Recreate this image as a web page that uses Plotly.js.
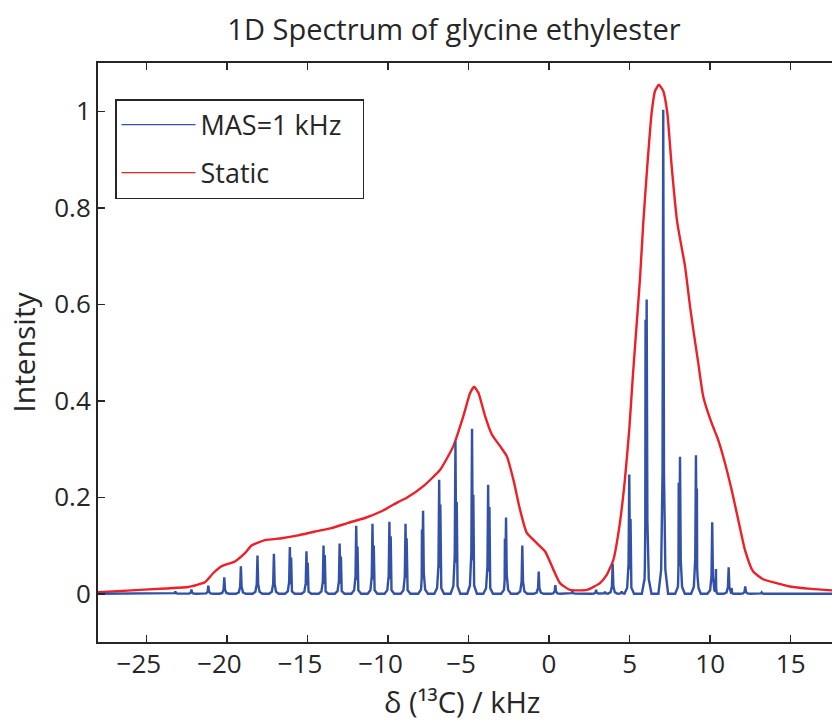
<!DOCTYPE html>
<html>
<head>
<meta charset="utf-8">
<script src="https://cdn.plot.ly/plotly-3.0.1.min.js"></script>
<style>
html,body{margin:0;padding:0;background:#fff;overflow:hidden;}
#chart{width:845px;height:720px;}
</style>
</head>
<body>
<div id="chart"></div>
<script>
// ---- data ----
// MAS = 1 kHz spectrum: sideband positions (kHz), heights, and the small
// neighbouring line each sideband carries (offset in kHz, height).
var mas_x   = [-23.2, -22.2, -21.15, -20.16, -19.13, -18.1, -17.08, -16.09, -15.06, -14.0, -13.0, -11.97, -10.96, -9.91, -8.91, -7.82, -6.82, -5.81, -4.78, -3.78, -2.67, -1.66, -0.64, 0.39, 1.45, 2.92, 3.47, 3.95, 4.51, 4.98, 6.06, 7.09, 8.13, 9.12, 10.13, 11.15, 12.18, 13.2];
var mas_h   = [0.005, 0.009, 0.017, 0.034, 0.057, 0.079, 0.083, 0.097, 0.088, 0.100, 0.104, 0.141, 0.145, 0.149, 0.145, 0.172, 0.236, 0.316, 0.342, 0.226, 0.158, 0.100, 0.046, 0.018, 0.005, 0.008, 0.004, 0.062, 0.005, 0.247, 0.610, 1.003, 0.284, 0.287, 0.148, 0.055, 0.015, 0.003];
var mas_sdx = [0, 0, 0, 0, 0, 0, 0, 0.08, 0.08, 0.08, 0.08, 0.08, 0.08, 0.08, 0.07, -0.07, 0.07, 0.08, 0.08, 0.08, -0.07, 0, 0, 0, 0, 0, 0, 0, 0, 0.08, -0.07, 0, -0.08, 0.06, 0.23, 0.18, 0, 0];
var mas_sh  = [0, 0, 0, 0, 0, 0, 0, 0.075, 0.064, 0.080, 0.077, 0.098, 0.100, 0.119, 0.115, 0.133, 0.185, 0.190, 0.205, 0.180, 0.114, 0, 0, 0, 0, 0, 0, 0, 0, 0.155, 0.568, 0, 0.230, 0.218, 0.051, 0.012, 0, 0];

// Static spectrum
var static_x = [-28, -25.9, -23.8, -22.4, -21.8, -21.36, -20.84, -20.33, -19.5, -18.88, -18.47, -17.64, -16.6, -15.57, -14.53, -13.5, -12.47, -11.43, -10.4, -9.37, -8.83, -7.8, -6.76, -5.94, -5.32, -4.9, -4.65, -4.38, -3.97, -3.55, -3.04, -2.62, -2.21, -1.8, -1.38, -0.76, -0.25, 0.27, 0.68, 1.3, 2.34, 3.16, 3.58, 3.99, 4.4, 4.71, 4.98, 5.2, 5.42, 5.65, 5.85, 6.1, 6.37, 6.58, 6.82, 7.09, 7.34, 7.61, 7.96, 8.44, 8.75, 9.0, 9.26, 9.57, 10.09, 10.5, 10.92, 11.33, 11.74, 12.16, 12.67, 13.29, 14.12, 14.95, 16.3, 18];
var static_y = [0.003, 0.007, 0.011, 0.014, 0.019, 0.024, 0.043, 0.057, 0.067, 0.084, 0.100, 0.111, 0.115, 0.121, 0.129, 0.136, 0.147, 0.157, 0.171, 0.190, 0.199, 0.223, 0.257, 0.306, 0.368, 0.416, 0.429, 0.416, 0.368, 0.330, 0.306, 0.285, 0.236, 0.174, 0.126, 0.105, 0.088, 0.050, 0.022, 0.008, 0.008, 0.022, 0.039, 0.070, 0.147, 0.237, 0.340, 0.450, 0.550, 0.655, 0.769, 0.887, 0.997, 1.042, 1.055, 1.042, 0.997, 0.887, 0.769, 0.679, 0.596, 0.537, 0.479, 0.409, 0.354, 0.319, 0.271, 0.216, 0.154, 0.091, 0.046, 0.030, 0.022, 0.015, 0.010, 0.006];

var x_tickvals = [-25, -20, -15, -10, -5, 0, 5, 10, 15];
var x_ticktext = ['\u221225\u2007', '\u221220\u2007', '\u221215\u2007', '\u221210\u2007', '\u22125\u2007', '0', '5', '10', '15'];
var y_tickvals = [0, 0.2, 0.4, 0.6, 0.8, 1];
var y_ticktext = ['0', '0.2', '0.4', '0.6', '0.8', '1'];

var series_names = ['MAS=1 kHz', 'Static'];
var title_text = '1D Spectrum of glycine ethylester';
var x_title = '\u03b4 (\u00b9\u00b3C) / kHz';
var y_title = 'Intensity';

// ---- build the MAS line from the sideband table (narrow line shape) ----
var lineShape = {off: [-0.3, -0.13, -0.045, 0, 0.045, 0.13, 0.3], frac: [0, 0.05, 0.25, 1, 0.25, 0.05, 0]};
var sideShape = {off: [-0.1, -0.04, -0.015, 0, 0.015, 0.04, 0.1], frac: [0, 0.05, 0.25, 1, 0.25, 0.05, 0]};
var comps = [];
for (var i = 0; i < mas_x.length; i++) {
  comps.push({c: mas_x[i], h: mas_h[i], s: lineShape});
  if (mas_sh[i] > 0) comps.push({c: mas_x[i] + mas_sdx[i], h: mas_sh[i], s: sideShape});
}
function tent(comp, x) {
  var o = comp.s.off, f = comp.s.frac, d = x - comp.c;
  if (d <= o[0] || d >= o[o.length - 1]) return 0;
  for (var k = 0; k < o.length - 1; k++) {
    if (d >= o[k] && d <= o[k + 1]) {
      var t = (d - o[k]) / (o[k + 1] - o[k]);
      return comp.h * (f[k] + t * (f[k + 1] - f[k]));
    }
  }
  return 0;
}
var xs = [-28, 18];
comps.forEach(function (cp) { cp.s.off.forEach(function (o) { xs.push(cp.c + o); }); });
xs.sort(function (a, b) { return a - b; });
var mas_line_x = [], mas_line_y = [];
xs.forEach(function (x) {
  var m = 0;
  comps.forEach(function (cp) { var v = tent(cp, x); if (v > m) m = v; });
  mas_line_x.push(x); mas_line_y.push(m);
});

var blue = '#3351a6', red = '#ee1f26', ink = '#262626';
var FONT = '"Open Sans", "Noto Sans", sans-serif';

var traces = [
  {x: static_x, y: static_y, type: 'scatter', mode: 'lines', name: series_names[1],
   line: {color: red, width: 2.4, shape: 'spline', smoothing: 0.5}, showlegend: false},
  {x: mas_line_x, y: mas_line_y, type: 'scatter', mode: 'lines', name: series_names[0],
   line: {color: blue, width: 2.4}, showlegend: false},
  {x: [null], y: [null], type: 'scatter', mode: 'lines', name: series_names[0] + '\u2007',
   line: {color: blue, width: 1.3}, showlegend: true, legendgroup: 'a'},
  {x: [null], y: [null], type: 'scatter', mode: 'lines', name: series_names[1],
   line: {color: red, width: 1.3}, showlegend: true, legendgroup: 'b'}
];

var W = 845, H = 720, ML = 98, MR = 6, MT = 63, MB = 78;
var PW = W - ML - MR, PH = H - MT - MB;
var layout = {
  width: W, height: H,
  margin: {l: ML, r: MR, t: MT, b: MB, pad: 0},
  paper_bgcolor: '#fff', plot_bgcolor: '#fff',
  font: {family: FONT, color: ink, size: 26},
  title: {text: title_text, font: {size: 29, color: ink, family: FONT},
          x: 454 / W, xanchor: 'center', xref: 'container', y: 1 - 30 / H, yanchor: 'middle', yref: 'container'},
  xaxis: {range: [-28, 18], tickvals: x_tickvals, ticktext: x_ticktext,
          ticks: 'inside', ticklen: 7, tickwidth: 1.5, tickcolor: ink,
          showline: true, linecolor: ink, linewidth: 2, mirror: 'ticks', ticklabelstandoff: -2,
          showgrid: false, zeroline: false, tickfont: {size: 26, color: ink}},
  yaxis: {range: [-0.1, 1.1], tickvals: y_tickvals, ticktext: y_ticktext,
          ticks: 'inside', ticklen: 7, tickwidth: 1.5, tickcolor: ink,
          showline: true, linecolor: ink, linewidth: 2, mirror: 'ticks',
          showgrid: false, zeroline: false, tickfont: {size: 26, color: ink},
          title: {text: y_title, font: {size: 30, color: ink}, standoff: 10}},
  annotations: [
    {text: x_title, xref: 'paper', yref: 'paper', x: (462 - ML) / PW, y: (H - MB - 701) / PH,
     xanchor: 'center', yanchor: 'middle', showarrow: false, borderpad: 0, font: {size: 29, color: ink}}
  ],
  legend: {x: (115 - ML) / PW, y: (H - MB - 99) / PH, xanchor: 'left', yanchor: 'top',
           bgcolor: '#fff', bordercolor: ink, borderwidth: 1.5, font: {size: 27, color: ink},
           itemwidth: 74, traceorder: 'grouped', tracegroupgap: 10},
  showlegend: true
};

Plotly.newPlot('chart', traces, layout, {displayModeBar: false, staticPlot: true});
</script>
</body>
</html>
